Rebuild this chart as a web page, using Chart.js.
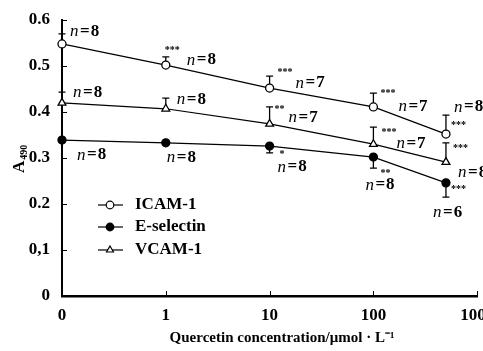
<!DOCTYPE html>
<html>
<head>
<meta charset="utf-8">
<script src="https://cdn.jsdelivr.net/npm/chart.js@4.4.0/dist/chart.umd.min.js"></script>
<style>
    html, body { margin: 0; padding: 0; background: #fff; }
    #wrap { width: 483px; height: 351px; }
</style>
</head>
<body>
<div id="wrap"><canvas id="chart"></canvas></div>
<script>
// concentrations in umol/L (0 is drawn one decade below 1 on the log axis)
const concentrations = [0, 1, 10, 100, 500];
const xTickValues = [0, 1, 10, 100, 1000];
const xTickLabels = ['0', '1', '10', '100', '1000'];
const yTickValues = [0, 0.1, 0.2, 0.3, 0.4, 0.5, 0.6];
const yTickLabels = ['0', '0,1', '0.2', '0.3', '0.4', '0.5', '0.6'];

const icam = [0.548, 0.502, 0.452, 0.411, 0.352];
const icamErr = [0.022, 0.018, 0.026, 0.030, 0.041];
const eselectin = [0.339, 0.333, 0.326, 0.302, 0.246];
const eselectinErr = [0, 0, 0.015, 0.024, 0.031];
const vcam = [0.420, 0.407, 0.374, 0.330, 0.291];
const vcamErr = [0.023, 0.023, 0.037, 0.037, 0.042];

const icamN = ['n=8', 'n=8', 'n=7', 'n=7', 'n=8'];
const eselectinN = ['n=8', 'n=8', 'n=8', 'n=8', 'n=6'];
const vcamN = ['n=8', 'n=8', 'n=7', 'n=7', 'n=8'];
const icamStars = ['', '***', '***', '***', '***'];
const eselectinStars = ['', '', '*', '**', '***'];
const vcamStars = ['', '', '**', '***', '***'];

const xTitle = 'Quercetin concentration/μmol · L⁻¹';

const SERIF = '"Liberation Serif", "Times New Roman", serif';
const ZERO_POS = 0.1;
const toAxis = c => c === 0 ? ZERO_POS : c;

// where the annotations sit relative to each point (px)
const labelOffsets = {
    icam: {
        n: [[8, -12], [21, -5], [26, -5], [25, 0], [8, -27]],
        s: [null, [-1, -15], [8, -16], [7, -14], [5, -9]]
    },
    esel: {
        n: [[15, 15], [1, 15], [8, 21], [-8, 28], [-13, 30]],
        s: [null, null, [10, 8], [7, 16], [5, 7]]
    },
    vcam: {
        n: [[11, -10], [11, -9], [19, -6], [23, -1], [12, 10]],
        s: [null, null, [5, -15], [8, -12], [7, -14]]
    }
};

function makeSeries(label, values, errors, dir, nText, stars, key, fill, style) {
    return {
        label: label,
        data: concentrations.map((c, i) => ({ x: toAxis(c), y: values[i] })),
        errors: errors,
        errDir: dir,
        nText: nText,
        stars: stars,
        key: key,
        borderColor: '#000',
        borderWidth: 1.2,
        pointStyle: style,
        pointRadius: style === 'triangle' ? 4.5 : 4,
        pointBorderWidth: 1.3,
        pointBorderColor: '#000',
        pointBackgroundColor: fill,
        tension: 0,
        clip: false
    };
}

const annotations = {
    id: 'annotations',
    beforeDatasetsDraw(chart) {
        const ctx = chart.ctx;
        const xs = chart.scales.x, ys = chart.scales.y;
        ctx.save();
        ctx.strokeStyle = '#000';
        ctx.lineWidth = 1.3;
        chart.data.datasets.forEach(ds => {
            ds.data.forEach((p, i) => {
                const e = ds.errors[i];
                if (!e) return;
                const px = xs.getPixelForValue(p.x);
                const y0 = ys.getPixelForValue(p.y);
                const y1 = ys.getPixelForValue(p.y + ds.errDir * e);
                ctx.beginPath();
                ctx.moveTo(px, y0);
                ctx.lineTo(px, y1);
                ctx.moveTo(px - 3.5, y1);
                ctx.lineTo(px + 3.5, y1);
                ctx.stroke();
            });
        });
        // inner tick marks
        ctx.lineWidth = 1;
        xs.ticks.forEach(t => {
            const px = Math.round(xs.getPixelForValue(t.value)) + 0.5;
            ctx.beginPath();
            ctx.moveTo(px, xs.top);
            ctx.lineTo(px, xs.top - 5);
            ctx.stroke();
        });
        ys.ticks.forEach(t => {
            const py = Math.round(ys.getPixelForValue(t.value)) + 0.5;
            ctx.beginPath();
            ctx.moveTo(ys.right, py);
            ctx.lineTo(ys.right + 5, py);
            ctx.stroke();
        });
        ctx.restore();
    },
    afterDatasetsDraw(chart) {
        const ctx = chart.ctx;
        const xs = chart.scales.x, ys = chart.scales.y;
        ctx.save();
        ctx.fillStyle = '#000';
        ctx.textBaseline = 'middle';
        ctx.textAlign = 'left';
        chart.data.datasets.forEach(ds => {
            const off = labelOffsets[ds.key];
            ds.data.forEach((p, i) => {
                const px = xs.getPixelForValue(p.x);
                const py = ys.getPixelForValue(p.y);
                const n = off.n[i];
                ctx.letterSpacing = '0px';
                ctx.font = 'italic 17px ' + SERIF;
                ctx.fillText('n', px + n[0], py + n[1]);
                const w = ctx.measureText('n').width;
                ctx.font = 'bold 17px ' + SERIF;
                ctx.letterSpacing = '1px';
                ctx.fillText(ds.nText[i].slice(1), px + n[0] + w + 1.5, py + n[1]);
                ctx.letterSpacing = '0px';
                const s = off.s[i];
                if (s && ds.stars[i]) {
                    ctx.font = 'bold 10px ' + SERIF;
                    ctx.fillText(ds.stars[i], px + s[0], py + s[1]);
                }
            });
        });

        // legend
        const lx = 98, ly = [205, 227, 250];
        chart.data.datasets.forEach((ds, i) => {
            const y = ly[i];
            ctx.strokeStyle = '#000';
            ctx.lineWidth = 1.2;
            ctx.beginPath();
            ctx.moveTo(lx, y);
            ctx.lineTo(lx + 25, y);
            ctx.stroke();
            ctx.fillStyle = ds.pointBackgroundColor;
            Chart.helpers.drawPoint(ctx, {
                pointStyle: ds.pointStyle,
                radius: ds.pointStyle === 'triangle' ? 4 : 3.8,
                borderWidth: 1.2,
                rotation: 0
            }, lx + 12, y);
            ctx.fillStyle = '#000';
            ctx.font = 'bold 17px ' + SERIF;
            ctx.fillText(ds.label, lx + 37, y);
        });

        // x axis title
        ctx.textAlign = 'center';
        ctx.font = 'bold 15px ' + SERIF;
        ctx.fillText(xTitle, 282, 338);

        // y axis title: A with subscript 490
        ctx.save();
        ctx.translate(19, 173);
        ctx.rotate(-Math.PI / 2);
        ctx.textAlign = 'left';
        ctx.font = 'bold 17px ' + SERIF;
        ctx.textBaseline = 'alphabetic';
        ctx.fillText('A', 0, 5);
        const aw = ctx.measureText('A').width;
        ctx.font = 'bold 10px ' + SERIF;
        ctx.fillText('490', aw + 1, 8);
        ctx.restore();
        ctx.restore();
    }
};

new Chart(document.getElementById('chart'), {
    type: 'line',
    data: {
        datasets: [
            makeSeries('ICAM-1', icam, icamErr, 1, icamN, icamStars, 'icam', '#fff', 'circle'),
            makeSeries('E-selectin', eselectin, eselectinErr, -1, eselectinN, eselectinStars, 'esel', '#000', 'circle'),
            makeSeries('VCAM-1', vcam, vcamErr, 1, vcamN, vcamStars, 'vcam', '#fff', 'triangle')
        ]
    },
    options: {
        responsive: true,
        maintainAspectRatio: false,
        animation: false,
        layout: { padding: { top: 20, right: 3, left: 0, bottom: 0 } },
        plugins: {
            legend: { display: false },
            tooltip: { enabled: false }
        },
        scales: {
            x: {
                type: 'logarithmic',
                min: ZERO_POS,
                max: 1000,
                afterBuildTicks: s => { s.ticks = xTickValues.map(v => ({ value: toAxis(v) })); },
                afterFit: s => { s.height = 55; s.paddingLeft = 0; s.paddingRight = 0; },
                grid: { drawOnChartArea: false, drawTicks: false },
                border: { color: '#000', width: 2.5 },
                ticks: {
                    padding: 9,
                    color: '#000',
                    maxRotation: 0,
                    autoSkip: false,
                    font: { family: SERIF, size: 17, weight: 'bold' },
                    callback: (v, i) => xTickLabels[i]
                }
            },
            y: {
                min: 0,
                max: 0.6,
                afterBuildTicks: s => { s.ticks = yTickValues.map(v => ({ value: v })); },
                afterFit: s => { s.width = 62; s.paddingTop = 0; s.paddingBottom = 0; },
                grid: { drawOnChartArea: false, drawTicks: false },
                border: { color: '#000', width: 2 },
                ticks: {
                    padding: 12,
                    color: '#000',
                    font: { family: SERIF, size: 17, weight: 'bold' },
                    callback: (v, i) => yTickLabels[i]
                }
            }
        }
    },
    plugins: [annotations]
});
</script>
</body>
</html>
